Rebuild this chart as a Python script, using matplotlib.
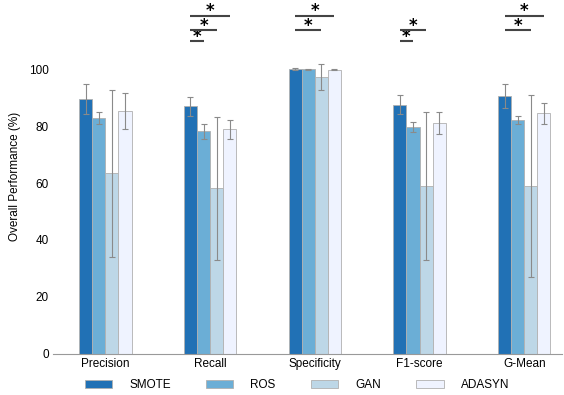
import matplotlib
matplotlib.use("Agg")
import matplotlib.pyplot as plt
import numpy as np

plt.rcParams['font.family'] = ['Liberation Sans', 'DejaVu Sans']

metrics = ["Precision", "Recall", "Specificity", "F1-score", "G-Mean"]
methods = ["SMOTE", "ROS", "GAN", "ADASYN"]
smote = [89.7, 87.1, 100.2, 87.6, 90.8]
smote_err = [5.3, 3.3, 0.2, 3.3, 4.2]
ros = [82.9, 78.3, 100.1, 79.9, 82.2]
ros_err = [2.2, 2.6, 0.2, 1.8, 1.5]
gan = [63.4, 58.2, 97.4, 59.0, 58.9]
gan_err = [29.3, 25.1, 4.7, 26.0, 32.0]
adasyn = [85.3, 78.9, 99.9, 81.3, 84.6]
adasyn_err = [6.4, 3.2, 0.2, 3.9, 3.7]
colors = ["#2171b5", "#6baed6", "#bdd7e7", "#eff3ff"]

# significance: (metric index, method index compared with SMOTE, level)
sig_pairs = [(1, 3, 119), (1, 2, 114), (1, 1, 110),
             (2, 3, 119), (2, 2, 114),
             (3, 2, 114), (3, 1, 110),
             (4, 3, 119), (4, 2, 114)]

values = [smote, ros, gan, adasyn]
errors = [smote_err, ros_err, gan_err, adasyn_err]

fig = plt.figure(figsize=(5.64, 3.95), dpi=100)
ax = fig.add_axes([53/564, 1 - 353.5/395, (562-53)/564, 353.5/395])

x = np.arange(len(metrics))
w = 0.125
for i, (m, v, e, c) in enumerate(zip(methods, values, errors, colors)):
    pos = x + (i - 1.5) * w
    ax.bar(pos, v, width=w, color=c, edgecolor="#b0b0b0", linewidth=0.6, label=m, zorder=2)
    ax.errorbar(pos, v, yerr=e, fmt='none', ecolor="#8a8a8a", elinewidth=0.8,
                capsize=2, capthick=0.8, zorder=3)

for gi, mi, lvl in sig_pairs:
    x0 = x[gi] + (0 - 1.5) * w
    x1 = x[gi] + (mi - 1.5) * w
    ax.plot([x0, x1], [lvl, lvl], color="#444444", lw=1.5, solid_capstyle='butt',
            clip_on=False, zorder=4)
    ax.text((x0 + x1) / 2, lvl - 0.3, "*", ha='center', va='baseline', fontsize=12,
            fontweight='bold', color='black', clip_on=False,
            family=['DejaVu Sans'])

ax.set_xlim(-0.5, 4.36)
ax.set_ylim(0, 124.5)
ax.set_yticks([0, 20, 40, 60, 80, 100])
ax.set_xticks(x)
ax.set_xticklabels(metrics)
ax.tick_params(axis='both', length=0, labelsize=8.5, pad=3)
for s in ['top', 'right', 'left']:
    ax.spines[s].set_visible(False)
ax.spines['bottom'].set_color('#999999')
ax.spines['bottom'].set_linewidth(0.8)
ax.set_ylabel("Overall Performance (%)", fontsize=8.5, labelpad=6)

fig.legend(loc='center', bbox_to_anchor=(297/564, 1 - 385/395), ncol=4, frameon=False,
           fontsize=8.5, handlelength=2.3, handletextpad=1.45, columnspacing=3.0,
           handleheight=0.75)

fig.savefig("out.png", dpi=100)
